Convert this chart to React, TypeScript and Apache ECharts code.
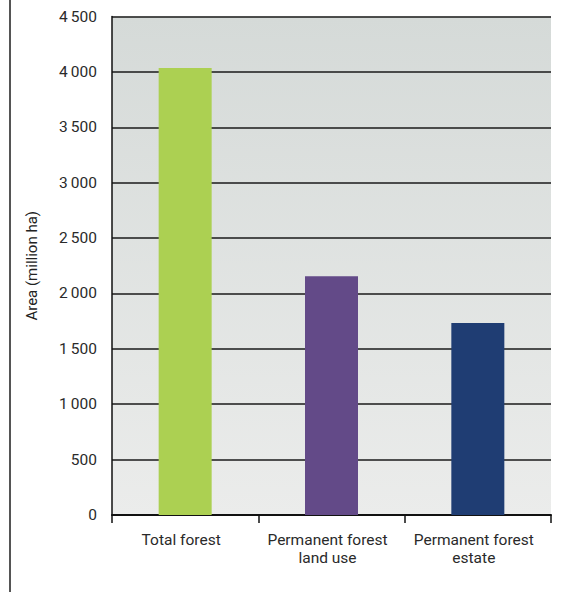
import React, { useEffect, useRef } from "react";
import * as echarts from "echarts";

const categories = ["Total forest", "Permanent forest\nland use", "Permanent forest\nestate"];
const values = [4035, 2155, 1733];
const barColors = ["#acd052", "#634a88", "#1f3d73"];
const yTicks = { min: 0, max: 4500, interval: 500 };
const yTitle = "Area (million ha)";

const fmt = (v: number) => {
  const s = String(Math.round(v));
  return s.replace(/\B(?=(\d{3})+(?!\d))/g, "\u2009");
};

export default function App() {
  const ref = useRef<HTMLDivElement>(null);
  useEffect(() => {
    document.body.style.margin = "0";
    if (!ref.current) return;
    const chart = echarts.init(ref.current, undefined, { renderer: "svg" });
    chart.setOption({
      animation: false,
      textStyle: { fontFamily: "Roboto" },
      grid: {
        left: 112,
        right: 31,
        top: 16.5,
        bottom: 77,
        show: true,
        borderWidth: 0,
        backgroundColor: new echarts.graphic.LinearGradient(0, 0, 0, 1, [
          { offset: 0, color: "#d5dad8" },
          { offset: 1, color: "#ebeceb" },
        ]),
      },
      graphic: [
        { type: "rect", shape: { x: 9, y: 0, width: 2, height: 592 }, style: { fill: "#555" } },
      ],
      xAxis: {
        type: "category",
        data: categories,
        axisLine: { lineStyle: { color: "#111", width: 2 } },
        axisTick: { show: true, length: 8, lineStyle: { color: "#111", width: 1.5 } },
        axisLabel: {
          interval: 0,
          color: "#2a2a2a",
          fontSize: 15.5,
          fontWeight: "normal",
          lineHeight: 18,
          margin: 16,
          padding: [0, 8, 0, 0],
        },
      },
      yAxis: {
        type: "value",
        min: yTicks.min,
        max: yTicks.max,
        interval: yTicks.interval,
        name: yTitle,
        nameLocation: "middle",
        nameGap: 73,
        nameTextStyle: { color: "#222", fontSize: 15, fontWeight: "normal" },
        axisLine: { show: true, lineStyle: { color: "#111", width: 1.5 } },
        axisTick: { show: false },
        axisLabel: {
          color: "#2a2a2a",
          fontSize: 15.5,
          fontWeight: "normal",
          margin: 15,
          formatter: (v: number) => fmt(v),
        },
        splitLine: { show: true, lineStyle: { color: "#1a1a1a", width: 1.5 } },
      },
      series: [
        {
          type: "bar",
          barWidth: 53,
          data: values.map((v, i) => ({ value: v, itemStyle: { color: barColors[i] } })),
        },
      ],
    });
    return () => chart.dispose();
  }, []);
  return <div ref={ref} style={{ width: 582, height: 592 }} />;
}
